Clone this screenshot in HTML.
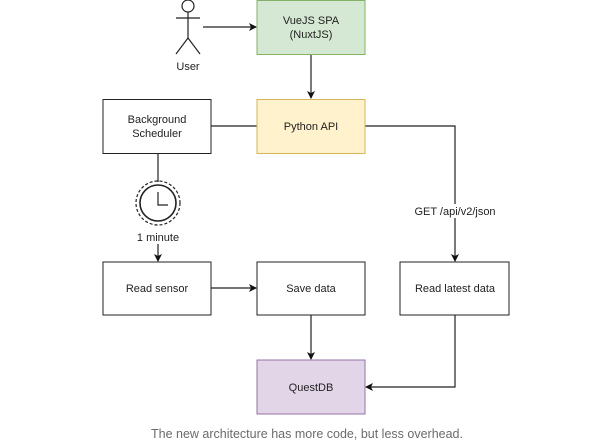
<!DOCTYPE html>
<html><head><style>
body{margin:0;background:#fff;width:612px;height:442px;overflow:hidden;font-family:"Liberation Sans",sans-serif}
</style></head><body>
<svg width="612" height="442" viewBox="0 0 612 442" xmlns="http://www.w3.org/2000/svg" font-family="Liberation Sans, sans-serif" font-size="11" fill="#222">
<defs><marker id="a" markerWidth="8" markerHeight="8" refX="7" refY="4" orient="auto" markerUnits="userSpaceOnUse"><path d="M0,0 L8,4 L0,8 L2,4z" fill="#111"/></marker></defs>
<g stroke="#222" stroke-width="1.2" fill="none">
<circle cx="188" cy="6" r="6"/>
<line x1="188" y1="12" x2="188" y2="38"/>
<line x1="176" y1="18" x2="200" y2="18"/>
<line x1="188" y1="38" x2="176" y2="54"/>
<line x1="188" y1="38" x2="200" y2="54"/>
<line x1="203" y1="27" x2="256" y2="27" marker-end="url(#a)"/>
<line x1="311" y1="54" x2="311" y2="98" marker-end="url(#a)"/>
<line x1="211" y1="126" x2="257" y2="126"/>
<polyline points="365,126 455,126 455,261" marker-end="url(#a)"/>
<polyline points="455,315 455,387 366,387" marker-end="url(#a)"/>
<line x1="158" y1="153" x2="158" y2="182"/>
<line x1="158" y1="244" x2="158" y2="261" marker-end="url(#a)"/>
<line x1="211" y1="288" x2="256" y2="288" marker-end="url(#a)"/>
<line x1="311" y1="315" x2="311" y2="359" marker-end="url(#a)"/>
<circle cx="158" cy="203" r="22" stroke-dasharray="3,2"/>
<circle cx="158" cy="203" r="18" stroke-width="1.6"/>
<polyline points="158,192 158,205 168,205"/>
</g>
<rect x="257" y="0.5" width="108" height="54" fill="#d5e8d4" stroke="#82b366"/>
<rect x="257" y="99.5" width="108" height="54" fill="#fff2cc" stroke="#d6b656"/>
<rect x="103" y="99.5" width="108" height="54" fill="#fff" stroke="#222"/>
<rect x="103" y="262" width="108" height="53" fill="#fff" stroke="#222"/>
<rect x="257" y="262" width="108" height="53" fill="#fff" stroke="#222"/>
<rect x="400" y="262" width="109" height="53" fill="#fff" stroke="#222"/>
<rect x="257" y="360" width="108" height="54" fill="#e1d5e7" stroke="#9673a6"/>
<g text-anchor="middle">
<text x="311" y="24">VueJS SPA</text><text x="311" y="38">(NuxtJS)</text>
<text x="188" y="70">User</text>
<text x="311" y="130">Python API</text>
<text x="157" y="123">Background</text><text x="157" y="137">Scheduler</text>
<rect x="130" y="230" width="56" height="14" fill="#fff"/>
<text x="158" y="241">1 minute</text>
<rect x="412" y="204" width="86" height="14" fill="#fff"/>
<text x="455" y="215">GET /api/v2/json</text>
<text x="157" y="292">Read sensor</text>
<text x="311" y="292">Save data</text>
<text x="455" y="292">Read latest data</text>
<text x="311" y="391">QuestDB</text>
<text x="307" y="438" font-size="12.5" fill="#6b6b6b">The new architecture has more code, but less overhead.</text>
</g>
</svg>
</body></html>
